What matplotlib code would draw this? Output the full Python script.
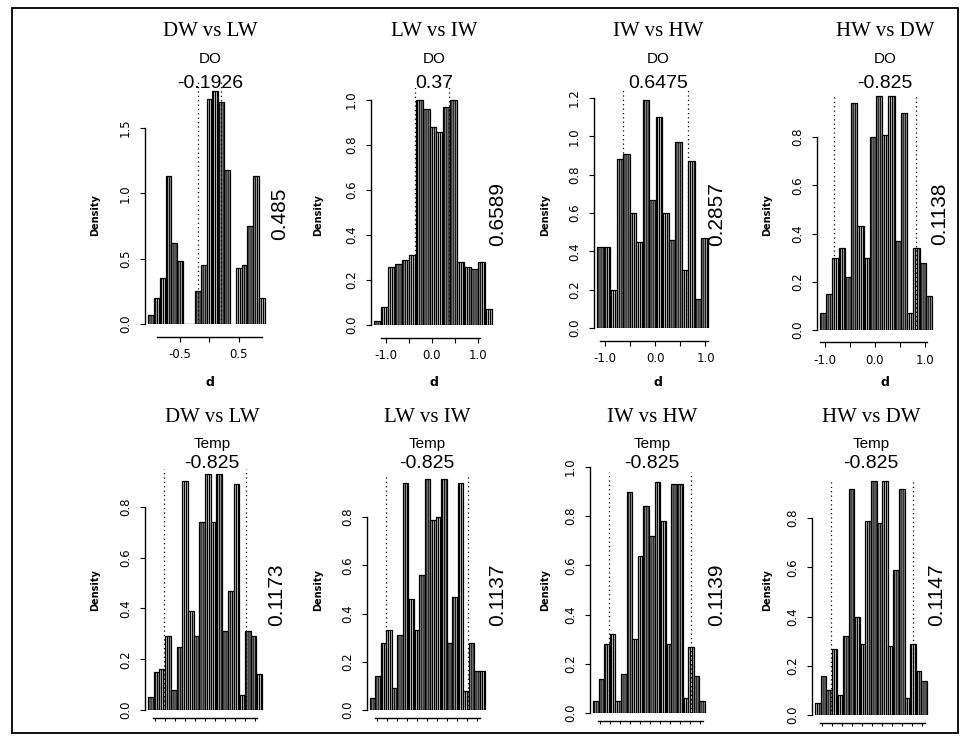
import numpy as np
import matplotlib
matplotlib.use('Agg')
import matplotlib.pyplot as plt
from matplotlib.patches import Rectangle

W, H = 963, 737

# --- datos ---
pares = ['DW vs LW', 'LW vs IW', 'IW vs HW', 'HW vs DW']
variables = ['DO', 'Temp']
obs_do = ['-0.1926', '0.37', '0.6475', '-0.825']
obs_temp = ['-0.825', '-0.825', '-0.825', '-0.825']
pval_do = ['0.485', '0.6589', '0.2857', '0.1138']
pval_temp = ['0.1173', '0.1137', '0.1139', '0.1147']

inicio_do = [-1.05, -1.25, -1.16, -1.1]
ancho_do = [0.1, 0.15, 0.13, 0.125]
dens_do = [
    [0.07, 0.2, 0.35, 1.13, 0.62, 0.48, 0, 0, 0.25, 0.45, 1.72, 1.78, 1.7, 1.18, 0, 0.43, 0.45, 0.75, 1.13, 0.2],
    [0.02, 0.08, 0.26, 0.27, 0.29, 0.31, 1.0, 0.96, 0.88, 0.86, 0.97, 1.0, 0.28, 0.26, 0.25, 0.28, 0.07],
    [0.42, 0.42, 0.2, 0.88, 0.91, 0.6, 0.45, 1.19, 0.67, 1.1, 0.6, 0.46, 0.97, 0.3, 0.87, 0.15, 0.47],
    [0.07, 0.15, 0.3, 0.34, 0.22, 0.94, 0.43, 0.3, 0.8, 0.97, 0.81, 0.97, 0.37, 0.9, 0.07, 0.34, 0.28, 0.14],
]

inicio_temp = [-1.15, -1.15, -1.15, -1.15]
ancho_temp = [0.115, 0.11, 0.1125, 0.1125]
dens_temp = [
    [0.05, 0.15, 0.16, 0.29, 0.08, 0.25, 0.9, 0.39, 0.29, 0.74, 0.93, 0.74, 0.93, 0.31, 0.47, 0.89, 0.06, 0.31, 0.29, 0.14],
    [0.05, 0.14, 0.28, 0.33, 0.09, 0.31, 0.94, 0.46, 0.33, 0.56, 0.96, 0.79, 0.8, 0.96, 0.28, 0.47, 0.94, 0.08, 0.28, 0.16, 0.16],
    [0.05, 0.14, 0.28, 0.32, 0.05, 0.16, 0.9, 0.3, 0.64, 0.84, 0.72, 0.94, 0.78, 0.28, 0.93, 0.93, 0.06, 0.27, 0.15, 0.05],
    [0.05, 0.16, 0.1, 0.27, 0.08, 0.32, 0.92, 0.4, 0.29, 0.79, 0.95, 0.78, 0.95, 0.28, 0.59, 0.92, 0.07, 0.29, 0.18, 0.14],
]

yticks_do = [[0, 0.5, 1.0, 1.5], np.arange(0, 1.01, 0.2), np.arange(0, 1.21, 0.2), np.arange(0, 0.81, 0.2)]
yticks_temp = [np.arange(0, 0.81, 0.2), np.arange(0, 0.81, 0.2), np.arange(0, 1.01, 0.2), np.arange(0, 0.81, 0.2)]

# --- layout en pixeles: (borde izq barras, borde der barras, y=0, px por unidad, tope ylim) ---
layout = [
    (148, 265, 324, 130.7, 1.9),
    (374, 492, 325, 225, 1.08),
    (597, 708, 328, 191.7, 1.27),
    (820, 932, 330, 241, 1.0),
    (148, 262, 710, 254, 0.97),
    (370, 485, 710, 241, 1.0),
    (593, 705, 713, 246, 1.0),
    (815, 927, 715, 246, 0.98),
]
centro_txt = [210, 434, 658, 885, 212, 427, 652, 871]
x_pval = [280, 498, 717, 940, 277, 498, 717, 937]
x_dens = [95, 318, 545, 767]
y_fila = [dict(tit=32, sub=59, val=83, pval=214, dens=215, xax=9),
          dict(tit=417, sub=444, val=463, pval=595, dens=590, xax=6)]

plt.rcParams['hatch.linewidth'] = 1.0
fig = plt.figure(figsize=(W / 100, H / 100), dpi=100)
fig.patch.set_facecolor('white')

def fx(px): return px / W
def fy(py): return 1 - py / H

for i in range(8):
    fila, col = divmod(i, 4)
    if fila == 0:
        dens, ini, anc, obs, pv, yt = dens_do[col], inicio_do[col], ancho_do[col], obs_do[col], pval_do[col], yticks_do[col]
    else:
        dens, ini, anc, obs, pv, yt = dens_temp[col], inicio_temp[col], ancho_temp[col], obs_temp[col], pval_temp[col], yticks_temp[col]
    bl, br, y0, ppu, ytop = layout[i]
    bordes = ini + anc * np.arange(len(dens) + 1)
    escala = (bordes[-1] - bordes[0]) / (br - bl)
    pad = 3
    ax = fig.add_axes([fx(bl - pad), fy(y0), (br - bl + 2 * pad) / W, ytop * ppu / H])
    ax.set_xlim(bordes[0] - pad * escala, bordes[-1] + pad * escala)
    ax.set_ylim(0, ytop)
    ax.bar(bordes[:-1], dens, width=anc, align='edge', facecolor='white', edgecolor='black',
           hatch='||||||||', linewidth=0.9)
    v = abs(float(obs))
    for xv in (-v, v):
        ax.axvline(xv, ymin=0, ymax=0.98, color='black', ls=(0, (1, 2.5)), lw=0.9)

    for s in ('top', 'right'):
        ax.spines[s].set_visible(False)
    ax.patch.set_alpha(0)
    ax.spines['left'].set_bounds(0, yt[-1])
    ax.set_yticks(yt)
    ax.set_yticklabels([f"{t:.1f}" for t in yt], rotation=90, va='center', fontsize=8.5)
    ax.spines['bottom'].set_position(('outward', y_fila[fila]['xax']))
    if fila == 0:
        if col == 0:
            xt, xl, lim = [-0.5, 0, 0.5], ['-0.5', '', '0.5'], (-0.9, 0.9)
        else:
            xt, xl, lim = [-1, -0.5, 0, 0.5, 1], ['-1.0', '', '0.0', '', '1.0'], (-1.1, 1.05)
        ax.set_xticks(xt)
        ax.set_xticklabels(xl, fontsize=8.5)
        ax.spines['bottom'].set_bounds(*lim)
        ax.tick_params(axis='x', length=3.5, pad=5)
    else:
        xt = np.arange(-1, 1.01, 0.2)
        ax.set_xticks(xt)
        ax.set_xticklabels([])
        ax.spines['bottom'].set_bounds(-1.05, 1.05)
        ax.tick_params(axis='x', length=2.5, width=0.8)
    ax.tick_params(axis='y', length=3.5, pad=6)
    for s in ('left', 'bottom'):
        ax.spines[s].set_linewidth(1.0)

    cx = centro_txt[i]
    yf = y_fila[fila]
    fig.text(fx(cx), fy(yf['tit']), pares[col], ha='center', va='center',
             family='Liberation Serif', fontsize=15)
    fig.text(fx(cx), fy(yf['sub']), variables[fila], ha='center', va='center',
             family='Liberation Sans', fontsize=11)
    fig.text(fx(cx), fy(yf['val']), obs, ha='center', va='center',
             family='Liberation Sans', fontsize=14)
    fig.text(fx(x_pval[i]), fy(yf['pval']), pv, ha='center', va='center', rotation=90,
             family='Liberation Sans', fontsize=15)
    fig.text(fx(x_dens[col]), fy(yf['dens']), 'Density', ha='center', va='center', rotation=90,
             fontsize=7, fontweight='bold')
    if fila == 0:
        fig.text(fx(cx), fy(383), 'd', ha='center', va='center', fontsize=9, fontweight='bold')

# marco del escaneo
fig.add_artist(Rectangle((fx(12), fy(733)), (958 - 12) / W, (733 - 8) / H,
                         transform=fig.transFigure, fill=False, lw=1.3, color='black'))

plt.savefig('out.png', dpi=100)
plt.close()
